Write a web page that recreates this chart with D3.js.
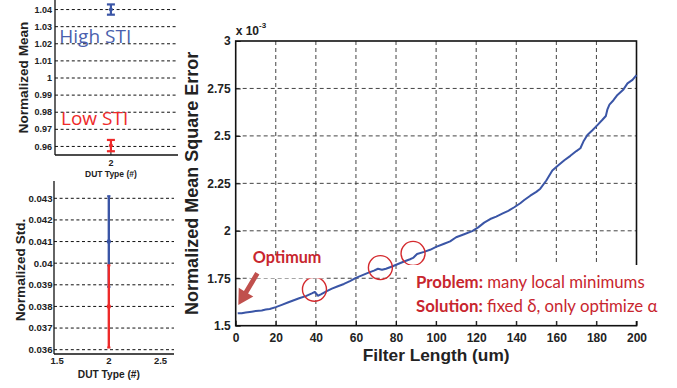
<!DOCTYPE html>
<html><head><meta charset="utf-8">
<script src="https://cdn.jsdelivr.net/npm/d3@7"></script>
<style>
html,body{margin:0;padding:0;background:#fff;}
svg{display:block;}
</style></head>
<body>
<svg id="chart" width="677" height="388" font-family="'Liberation Sans',Arial,sans-serif"></svg>
<script>
// ---------- DATA ----------
// Main chart: filter length (um) vs normalized MSE (x 10^-3)
const filterLength = [1,3,5,8,10,13,15,17,20,23,26,29,32,35,38,39.5,41,42.5,45,48,51,54,57,60,63,66,69,71,73,75,78,81,84,87,88.5,90.5,94,97,100,104,107,110,114,118,121,124,127,130,133,136,139,142,144,147,150,152,155,158,161,164,167,170,172,173.5,175.5,178,180.5,183,184.7,185.5,186.5,188.5,190.5,193.5,195.5,198,200];
const mseValues = [1.565,1.566,1.570,1.574,1.577,1.580,1.585,1.588,1.598,1.610,1.622,1.634,1.646,1.656,1.670,1.678,1.658,1.665,1.680,1.695,1.708,1.720,1.735,1.752,1.765,1.778,1.790,1.800,1.795,1.800,1.812,1.825,1.838,1.850,1.857,1.878,1.889,1.900,1.915,1.932,1.944,1.966,1.982,1.998,2.018,2.043,2.062,2.075,2.090,2.105,2.124,2.145,2.162,2.185,2.205,2.222,2.265,2.318,2.345,2.372,2.395,2.420,2.435,2.470,2.505,2.530,2.557,2.585,2.605,2.640,2.665,2.688,2.716,2.745,2.777,2.795,2.820];
const mainXTicks = [0,20,40,60,80,100,120,140,160,180,200];
const mainYTicks = [1.5,1.75,2,2.25,2.5,2.75,3];
const mainYTickLabels = ["1.5","1.75","2","2.25","2.5","2.75","3"];
const circleFilterLengths = [39.3,72.2,88.5];
const circleValues = [1.692,1.806,1.881];

// Top-left: normalized mean per STI group
const stiGroups = ["High STI","Low STI"];
const meanValues = [1.04,0.9605];
const meanErrors = [0.003,0.0033];
const meanYTicks = [0.96,0.97,0.98,0.99,1,1.01,1.02,1.03,1.04];
const meanYTickLabels = ["0.96","0.97","0.98","0.99","1","1.01","1.02","1.03","1.04"];
const dutType = 2;

// Bottom-left: normalized std per STI group
const stdValues = [0.041,0.038];
const stdErrors = [0.0021,0.0019];
const stdYTicks = [0.036,0.037,0.038,0.039,0.04,0.041,0.042,0.043];
const stdYTickLabels = ["0.036","0.037","0.038","0.039","0.04","0.041","0.042","0.043"];
const stdXTicks = [1.5,2,2.5];
const stdXTickLabels = ["1.5","2","2.5"];

// ---------- DRAW ----------
const svg = d3.select("#chart");
const BLUE = "#3a55a6", RED = "#ee2a2a", TRED = "#c8262e", AR = "#c0504d";
const CAL = "Lato,'Open Sans',sans-serif";

// ===== Main chart =====
const mx = d3.scaleLinear().domain([0,200]).range([235.7,636.5]);
const my = d3.scaleLinear().domain([1.5,3]).range([325.7,41]);
const main = svg.append("g");

// grid
main.selectAll(".vg").data(mainXTicks.slice(1,-1)).join("line")
  .attr("x1",d=>mx(d)).attr("x2",d=>mx(d)).attr("y1",my(3)).attr("y2",my(1.5))
  .attr("stroke","#444").attr("stroke-width",1).attr("stroke-dasharray","4,3");
main.selectAll(".hg").data(mainYTicks.slice(1,-1)).join("line")
  .attr("x1",mx(0)).attr("x2",mx(200)).attr("y1",d=>my(d)).attr("y2",d=>my(d))
  .attr("stroke","#444").attr("stroke-width",1).attr("stroke-dasharray","4,3");

// frame
main.append("rect").attr("x",mx(0)).attr("y",my(3)).attr("width",mx(200)-mx(0)).attr("height",my(1.5)-my(3))
  .attr("fill","none").attr("stroke","#111").attr("stroke-width",1.6);

// axes
const xAxis = d3.axisBottom(mx).tickValues(mainXTicks).tickSize(-5).tickPadding(8).tickFormat(d3.format("d"));
const gx = main.append("g").attr("transform",`translate(0,${my(1.5)})`).call(xAxis);
const yAxis = d3.axisLeft(my).tickValues(mainYTicks).tickSize(-5).tickPadding(5)
  .tickFormat((d,i)=>mainYTickLabels[i]);
const gy = main.append("g").attr("transform",`translate(${mx(0)},0)`).call(yAxis);
[gx,gy].forEach(g=>{
  g.attr("font-family",null);
  g.select(".domain").remove();
  g.selectAll(".tick line").attr("stroke","#111");
  g.selectAll(".tick text").attr("font-size",12).attr("font-weight","bold").attr("fill","#222")
    .attr("font-family","'Liberation Sans',Arial,sans-serif");
});

// line
main.append("path").datum(filterLength.map((f,i)=>[f,mseValues[i]]))
  .attr("d",d3.line().x(d=>mx(d[0])).y(d=>my(d[1])))
  .attr("fill","none").attr("stroke",BLUE).attr("stroke-width",2).attr("stroke-linejoin","round");

// exponent
const ex = main.append("text").attr("x",mx(0)).attr("y",34.5).attr("font-size",12).attr("font-weight","bold").attr("fill","#222");
ex.append("tspan").text("x 10");
ex.append("tspan").attr("font-size",8).attr("dy",-7).text("-3");

// axis titles
main.append("text").attr("x",mx(100)).attr("y",361).attr("text-anchor","middle")
  .attr("font-size",17.3).attr("font-weight","bold").attr("fill","#222").text("Filter Length (um)");
main.append("text").attr("transform",`translate(198,${(my(3)+my(1.5))/2}) rotate(-90)`).attr("text-anchor","middle")
  .attr("font-size",18).attr("font-weight","bold").attr("fill","#222").text("Normalized Mean Square Error");

// circles
main.selectAll(".circ").data(circleFilterLengths).join("circle")
  .attr("cx",d=>mx(d)).attr("cy",(d,i)=>my(circleValues[i])).attr("r",12)
  .attr("fill","none").attr("stroke","#d42a2e").attr("stroke-width",1.4);

// Optimum annotation
main.append("rect").attr("x",mx(7.2)).attr("y",my(1.86)).attr("width",74).attr("height",21).attr("fill","#fff");
main.append("text").attr("x",mx(8.5)).attr("y",my(1.83)).attr("font-family",CAL)
  .attr("font-size",16.2).attr("font-weight","bold").attr("fill",TRED).text("Optimum");
// arrow
{
  const x0=mx(10.8), y0=my(1.776), x1=mx(1.3), y1=my(1.609);
  const ang=Math.atan2(y1-y0,x1-x0), hl=15, hw=8.5, sw=2.4;
  const bx=x1-hl*Math.cos(ang), by=y1-hl*Math.sin(ang);
  const px=-Math.sin(ang), py=Math.cos(ang);
  const pts=[[x0+px*sw,y0+py*sw],[bx+px*sw,by+py*sw],[bx+px*hw,by+py*hw],[x1,y1],[bx-px*hw,by-py*hw],[bx-px*sw,by-py*sw],[x0-px*sw,y0-py*sw]];
  main.append("path").attr("d",d3.line()(pts)+"Z").attr("fill",AR);
}

// Problem / Solution box
main.append("rect").attr("x",407).attr("y",265).attr("width",240).attr("height",56).attr("fill","#fff");
const t1 = main.append("text").attr("x",mx(90)).attr("y",my(1.697)).attr("font-family",CAL)
  .attr("font-size",16.8).attr("fill",TRED);
t1.append("tspan").attr("font-weight","bold").text("Problem:");
t1.append("tspan").text(" many local minimums");
const t2 = main.append("text").attr("x",mx(90)).attr("y",my(1.574)).attr("font-family",CAL)
  .attr("font-size",16.8).attr("fill",TRED);
t2.append("tspan").attr("font-weight","bold").text("Solution:");
t2.append("tspan").text(" fixed δ, only optimize α");

// ===== Top-left: mean =====
const ax = d3.scaleLinear().domain([1.5,2.6]).range([55,178]);
const ay = d3.scaleLinear().domain([0.955,1.045]).range([155,1]);
const tl = svg.append("g");
tl.selectAll(".hg").data(meanYTicks).join("line")
  .attr("x1",55).attr("x2",178).attr("y1",d=>ay(d)).attr("y2",d=>ay(d))
  .attr("stroke","#111").attr("stroke-width",1).attr("stroke-dasharray","3,2.6");
tl.append("line").attr("x1",55).attr("x2",55).attr("y1",0).attr("y2",155).attr("stroke","#111").attr("stroke-width",1.3);
tl.append("line").attr("x1",55).attr("x2",178).attr("y1",155).attr("y2",155).attr("stroke","#111").attr("stroke-width",1.3);
tl.append("line").attr("x1",ax(dutType)).attr("x2",ax(dutType)).attr("y1",155).attr("y2",151).attr("stroke","#111");
tl.selectAll(".yt").data(meanYTicks).join("text")
  .attr("x",52).attr("y",d=>ay(d)).attr("dy","0.35em").attr("text-anchor","end")
  .attr("font-size",9).attr("font-weight","bold").attr("fill","#222").text((d,i)=>meanYTickLabels[i]);
tl.append("text").attr("x",ax(dutType)).attr("y",166).attr("text-anchor","middle")
  .attr("font-size",9).attr("font-weight","bold").attr("fill","#222").text(String(dutType));
tl.append("text").attr("x",ax(dutType)).attr("y",176.7).attr("text-anchor","middle")
  .attr("font-size",8.5).attr("font-weight","bold").attr("fill","#222").text("DUT Type (#)");
tl.append("text").attr("transform","translate(28,77.5) rotate(-90)").attr("text-anchor","middle")
  .attr("font-size",13.6).attr("font-weight","bold").attr("fill","#222").text("Normalized Mean");
const mcol = [BLUE, RED];
meanValues.forEach((v,i)=>{
  const g = tl.append("g").attr("stroke",mcol[i]).attr("stroke-width",2.2);
  const cx = ax(dutType);
  g.append("line").attr("x1",cx).attr("x2",cx).attr("y1",ay(v+meanErrors[i])).attr("y2",ay(v-meanErrors[i]));
  g.append("line").attr("x1",cx-4).attr("x2",cx+4).attr("y1",ay(v+meanErrors[i])).attr("y2",ay(v+meanErrors[i]));
  g.append("line").attr("x1",cx-4).attr("x2",cx+4).attr("y1",ay(v-meanErrors[i])).attr("y2",ay(v-meanErrors[i]));
  tl.append("circle").attr("cx",cx).attr("cy",ay(v)).attr("r",2).attr("fill",mcol[i]);
});
tl.append("text").attr("x",59.3).attr("y",42.7).attr("font-family","'Open Sans',sans-serif")
  .attr("font-size",19).attr("fill","#4a5fad").text(stiGroups[0]);
tl.append("text").attr("x",61).attr("y",125).attr("font-family","'Open Sans',sans-serif")
  .attr("font-size",19).attr("fill",RED).text(stiGroups[1]);

// ===== Bottom-left: std =====
const bx = d3.scaleLinear().domain([1.47,2.63]).range([54,174]);
const by = d3.scaleLinear().domain([0.0358,0.0438]).range([354,181]);
const bl = svg.append("g");
bl.selectAll(".hg").data(stdYTicks).join("line")
  .attr("x1",54).attr("x2",174).attr("y1",d=>by(d)).attr("y2",d=>by(d))
  .attr("stroke","#111").attr("stroke-width",1).attr("stroke-dasharray","3,2.6");
bl.append("line").attr("x1",54).attr("x2",54).attr("y1",181).attr("y2",354).attr("stroke","#111").attr("stroke-width",1.3);
bl.append("line").attr("x1",54).attr("x2",174).attr("y1",354).attr("y2",354).attr("stroke","#111").attr("stroke-width",1.3);
bl.selectAll(".xt").data(stdXTicks).join("text")
  .attr("x",d=>bx(d)).attr("y",363.5).attr("text-anchor","middle")
  .attr("font-size",9.5).attr("font-weight","bold").attr("fill","#222").text((d,i)=>stdXTickLabels[i]);
bl.selectAll(".yt").data(stdYTicks).join("text")
  .attr("x",52.5).attr("y",d=>by(d)).attr("dy","0.35em").attr("text-anchor","end")
  .attr("font-size",9.6).attr("font-weight","bold").attr("fill","#222").text((d,i)=>stdYTickLabels[i]);
bl.append("text").attr("x",bx(2)).attr("y",378).attr("text-anchor","middle")
  .attr("font-size",10.2).attr("font-weight","bold").attr("fill","#222").text("DUT Type (#)");
bl.append("text").attr("transform","translate(25,270) rotate(-90)").attr("text-anchor","middle")
  .attr("font-size",13.6).attr("font-weight","bold").attr("fill","#222").text("Normalized Std.");
stdValues.forEach((v,i)=>{
  const cx = bx(dutType);
  bl.append("line").attr("x1",cx).attr("x2",cx).attr("y1",by(v+stdErrors[i])).attr("y2",by(v-stdErrors[i]))
    .attr("stroke",mcol[i]).attr("stroke-width",2.4);
  bl.append("line").attr("x1",cx-1.6).attr("x2",cx+1.6).attr("y1",by(v+stdErrors[i])).attr("y2",by(v+stdErrors[i])).attr("stroke",mcol[i]).attr("stroke-width",2);
  bl.append("line").attr("x1",cx-1.6).attr("x2",cx+1.6).attr("y1",by(v-stdErrors[i])).attr("y2",by(v-stdErrors[i])).attr("stroke",mcol[i]).attr("stroke-width",2);
  bl.append("circle").attr("cx",cx).attr("cy",by(v)).attr("r",2.2).attr("fill",mcol[i]);
});
</script>
</body></html>
